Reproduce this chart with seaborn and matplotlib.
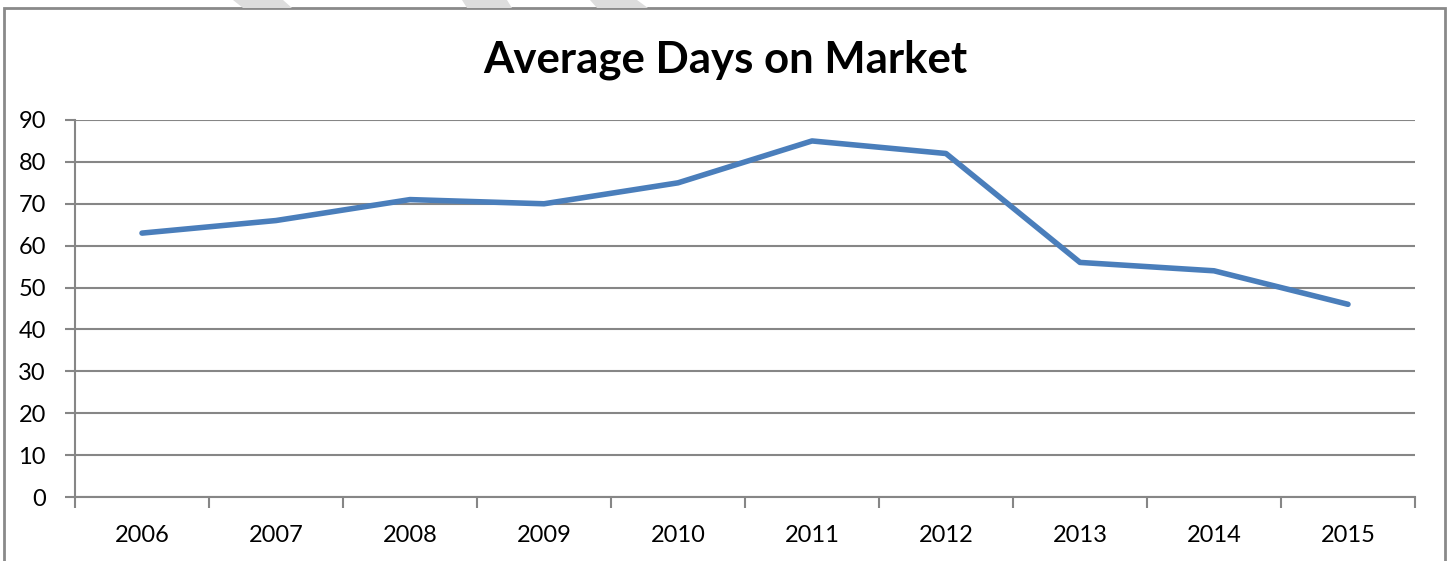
import matplotlib
matplotlib.use("Agg")
import matplotlib.pyplot as plt
import seaborn as sns
import pandas as pd
from matplotlib.patches import Polygon, Rectangle
from matplotlib.ticker import FixedLocator

# chart data
years = ["2006", "2007", "2008", "2009", "2010", "2011", "2012", "2013", "2014", "2015"]
days_on_market = [63, 66, 71, 70, 75, 85, 82, 56, 54, 46]
y_ticks = [0, 10, 20, 30, 40, 50, 60, 70, 80, 90]

df = pd.DataFrame({"year": years, "days": days_on_market})

sns.set_theme(style="white")
plt.rcParams["font.family"] = ["Lato", "DejaVu Sans"]

W, H = 1449, 561
fig = plt.figure(figsize=(W / 100, H / 100), dpi=100)
ax = fig.add_axes([75 / W, 1 - 497 / H, (1415 - 75) / W, (497 - 120) / H])

sns.lineplot(data=df, x="year", y="days", ax=ax, color="#4a7ebb",
             linewidth=4, solid_capstyle="round", solid_joinstyle="round")

ax.set_xlim(-0.5, len(years) - 0.5)
ax.set_ylim(0, 90)
ax.set_yticks(y_ticks)
ax.yaxis.grid(True, color="#868686", linewidth=1.5)
ax.set_axisbelow(True)
ax.set_xlabel("")
ax.set_ylabel("")

# category ticks sit between the labels, like Excel
ax.xaxis.set_minor_locator(FixedLocator([i - 0.5 for i in range(len(years) + 1)]))
ax.tick_params(axis="x", which="major", length=0, pad=20, labelsize=17, labelcolor="black")
ax.tick_params(axis="x", which="minor", length=8, width=1.5, color="#868686", bottom=True)
ax.tick_params(axis="y", which="major", length=7, width=1.5, color="#868686",
               left=True, pad=14, labelsize=17, labelcolor="black")

for side in ["top", "right"]:
    ax.spines[side].set_visible(False)
for side in ["left", "bottom"]:
    ax.spines[side].set_color("#868686")
    ax.spines[side].set_linewidth(1.5)

fig.text(725 / W, 1 - 60 / H, "Average Days on Market", ha="center", va="center",
         fontsize=31.5, fontweight="bold", color="black")

# chart border
fig.patches.append(Rectangle((4 / W, -0.05), (1445 - 4) / W, 1 - 8 / H + 0.05,
                             transform=fig.transFigure, fill=False,
                             edgecolor="#8a8a8a", linewidth=2))

# faint diagonal stripes at top edge
for x0, x1, x2, x3 in [(233, 283, 292, 243), (462, 507, 512, 467), (590, 637, 648, 597)]:
    fig.patches.append(Polygon([(x0 / W, 1), (x1 / W, 1), (x2 / W, 1 - 8 / H), (x3 / W, 1 - 8 / H)],
                               closed=True, transform=fig.transFigure,
                               facecolor="#dddddd", edgecolor="none"))

fig.savefig("out.png", dpi=100, facecolor="white")
